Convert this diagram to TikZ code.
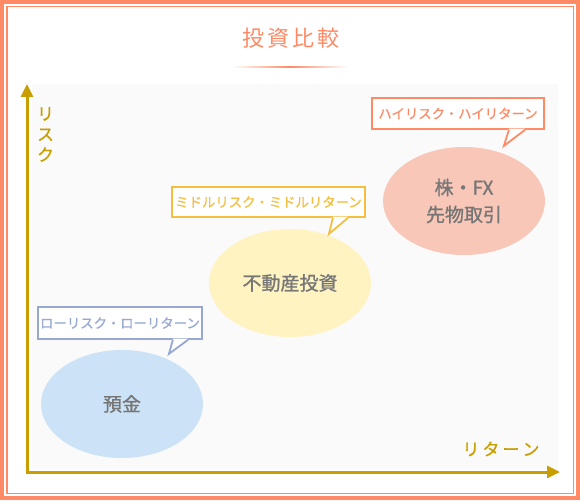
\documentclass[tikz,border=0pt]{standalone}
\usepackage{fontspec}
\setmainfont{Noto Sans CJK JP}
\newfontfamily\medfont{Noto Sans CJK JP}[FakeBold=0.6]
\newfontfamily\semifont{Noto Sans CJK JP}[FakeBold=1.1]
\usetikzlibrary{shapes.geometric,arrows.meta,calc}
\definecolor{salmon}{HTML}{FF8A65}
\definecolor{axisgold}{HTML}{C99E00}
\definecolor{plotbg}{HTML}{FAFAFA}
\definecolor{ellblue}{HTML}{CCE2F7}
\definecolor{ellyellow}{HTML}{FFF3C2}
\definecolor{ellpink}{HTML}{F9C7B8}
\definecolor{callpink}{HTML}{FF8A65}
\definecolor{callgold}{HTML}{F5BE3E}
\definecolor{callblue}{HTML}{98A8D4}
\definecolor{txtgray}{HTML}{767676}
\newcommand\mytail[5]{% node, color, base1 offset, base2 offset, tip offset
  \fill[white] ($(#1.south east)+(#3,-1.2)$) -- ($(#1.south east)+(#4,-1.2)$) -- ($(#1.south east)+(#5)$) -- cycle;
  \draw[#2,line width=1.8pt,line join=miter] ($(#1.south east)+(#3,0)$) -- ($(#1.south east)+(#5)$) -- ($(#1.south east)+(#4,0)$);
}
\tikzset{
  callout/.style={draw=#1,text=#1,fill=white,line width=1.8pt,rectangle,inner sep=0pt,
    font=\medfont\fontsize{13.4}{15}\selectfont},
  bubble/.style={ellipse,fill=#1,draw=none,minimum width=162pt,minimum height=108pt,inner sep=0pt,
    text=txtgray,font=\semifont\fontsize{19}{27}\selectfont,align=center},
  axis/.style={draw=axisgold,line width=3pt,{Triangle[width=12pt,length=13pt]}-{Triangle[width=12pt,length=13pt]}},
  axislabel/.style={text=axisgold,font=\medfont\fontsize{17}{20.5}\selectfont,inner sep=0pt,align=center}
}
\begin{document}
\begin{tikzpicture}[x=1pt,y=-1pt]
\useasboundingbox (0,0) rectangle (580,500);
\fill[white] (0,0) rectangle (580,500);
% frame
\draw[salmon,line width=4pt] (2,2) rectangle (578,498);
\draw[salmon,line width=1.5pt] (6.75,6.75) rectangle (573.25,493.25);
% title
\node[text=salmon,font=\fontsize{22}{24}\selectfont,inner sep=0pt] (title) at (291,38) {投\hspace{3pt}資\hspace{3pt}比\hspace{3pt}較};
\shade[left color=white,right color=salmon] (232,66.3) rectangle (290,67.7);
\shade[left color=salmon,right color=white] (290,66.3) rectangle (348,67.7);
% plot area
\fill[plotbg] (32,84) rectangle (558,470);
\coordinate (ytop) at (27,84);
\coordinate (O) at (27,472);
\coordinate (xend) at (560,472);
\draw[axis] (ytop) -- (O) -- (xend);
\node[axislabel] (ylab) at (45.5,134.5) {リ\\ス\\ク};
\node[axislabel] (xlab) at (501,449) {リ\hspace{3pt}タ\hspace{3pt}ー\hspace{3pt}ン};
% bubbles
\node[bubble=ellblue] (low) at (122,404) {預金};
\node[bubble=ellyellow] (mid) at (290,283) {不動産投資};
\node[bubble=ellpink] (high) at (464,201) {株・FX\\先物取引};
% callouts
\node[callout=callblue,minimum width=164pt,minimum height=32pt] (clow) at (120,323) {ローリスク・ローリターン};
\mytail{clow}{callblue}{-30}{-15}{-34,14}
\node[callout=callgold,minimum width=193pt,minimum height=30pt] (cmid) at (268.5,202) {ミドルリスク・ミドルリターン};
\mytail{cmid}{callgold}{-33}{-18}{-37,16}
\node[callout=callpink,minimum width=172pt,minimum height=31pt] (chigh) at (458,113.5) {ハイリスク・ハイリターン};
\mytail{chigh}{callpink}{-36}{-20}{-41,16}
\end{tikzpicture}
\end{document}
